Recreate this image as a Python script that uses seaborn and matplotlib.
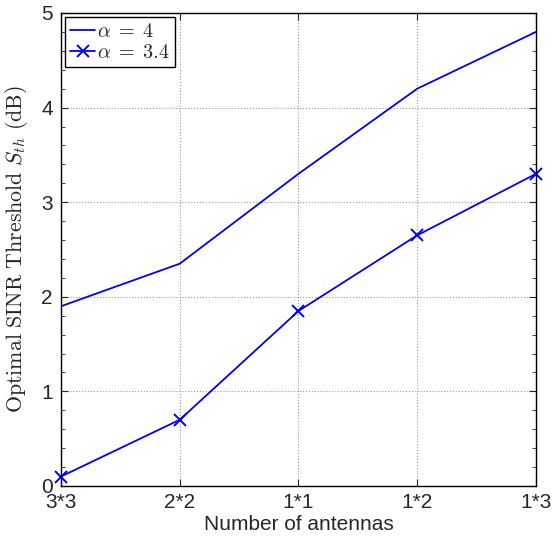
import matplotlib
matplotlib.use('Agg')
import matplotlib.pyplot as plt
import numpy as np
import seaborn as sns
from matplotlib.ticker import MultipleLocator

## Data
antennas = ['3*3', '2*2', '1*1', '1*2', '1*3']
sth_alpha4 = [1.9, 2.35, 3.3, 4.2, 4.8]
sth_alpha34 = [0.1, 0.7, 1.85, 2.65, 3.3]

pos = np.arange(len(antennas))

sns.set_style('ticks')
plt.rcParams['font.family'] = ['Liberation Sans', 'DejaVu Sans']
plt.rcParams['mathtext.fontset'] = 'cm'

fig = plt.figure(figsize=(5.52, 5.46), dpi=100)
ax = fig.add_axes([0.1105, 0.1099, 0.8605, 0.8663])

sns.lineplot(x=pos, y=sth_alpha4, color='#0000ff', linewidth=1.3,
             label=r'$\alpha\;=\;4$', ax=ax)
sns.lineplot(x=pos, y=sth_alpha34, color='#0000ff', linewidth=1.3,
             marker='x', markersize=8, markeredgewidth=1.4, markeredgecolor='#0000ff',
             label=r'$\alpha\;=\;3.4$', clip_on=False, ax=ax)

ax.set_xlim(0, 4)
ax.set_ylim(0, 5)
ax.set_xticks(pos)
ax.set_xticklabels(antennas)
ax.yaxis.set_major_locator(MultipleLocator(1))
ax.yaxis.set_minor_locator(MultipleLocator(0.2))
ax.tick_params(which='both', direction='in', top=True, right=True, labelsize=15)
ax.tick_params(which='major', length=5, width=0.8)
ax.tick_params(which='minor', length=3, width=0.6)
ax.tick_params(axis='x', pad=5)
ax.tick_params(axis='y', pad=6)
ax.grid(True, which='major', linestyle=':', color='#999999', linewidth=0.8)
for s in ax.spines.values():
    s.set_color('black')
    s.set_linewidth(1.0)

ax.set_xlabel('Number of antennas', fontsize=15, labelpad=2)
ax.set_ylabel(r'$\mathrm{Optimal\ SINR\ Threshold}\ S_{th}\ \mathrm{(dB)}$', fontsize=15.8)
ax.yaxis.set_label_coords(-0.066, 0.5)

leg = ax.legend(loc='upper left', fontsize=14.5, fancybox=False, framealpha=1,
                edgecolor='black', handlelength=1.25, handletextpad=0.1,
                borderaxespad=0.2, borderpad=0.25, labelspacing=0.1)
leg.get_frame().set_linewidth(1.0)

fig.savefig('out.png', dpi=100)
